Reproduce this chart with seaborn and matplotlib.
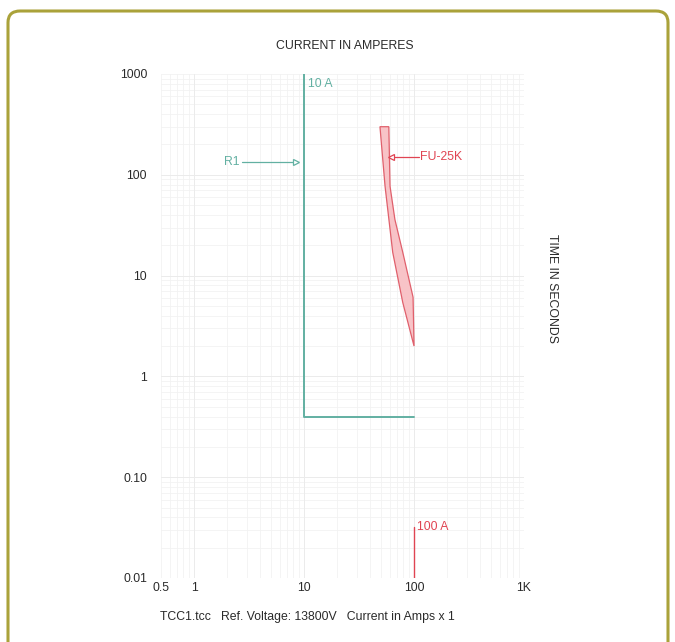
import numpy as np
import pandas as pd
import matplotlib
matplotlib.use("Agg")
import matplotlib.pyplot as plt
from matplotlib.patches import FancyBboxPatch
from matplotlib.ticker import FixedLocator, NullFormatter, FixedFormatter
import seaborn as sns

# Relay R1: definite-time characteristic (pickup 10 A, 0.4 s)
relay_current = [10, 10, 100]
relay_time = [1000, 0.4, 0.4]

# Fuse FU-25K: minimum melt and total clearing curves
melt_current = [49, 54.5, 64, 79, 100]
melt_time = [300, 77, 17, 5.4, 2.0]
clear_current = [59, 60.5, 67, 79, 98, 100]
clear_time = [300, 77, 36, 17, 6.1, 2.0]

# Fault current marker
fault_current = [100, 100]
fault_time = [0.01, 0.032]

x_ticks = [0.5, 1, 10, 100, 1000]
x_labels = ["0.5", "1", "10", "100", "1K"]
y_ticks = [0.01, 0.1, 1, 10, 100, 1000]
y_labels = ["0.01", "0.10", "1", "10", "100", "1000"]

sns.set_style("white")
plt.rcParams["font.family"] = ["Liberation Sans", "DejaVu Sans"]

GREEN = "#62b0a2"
RED = "#e04452"
EDGE = "#e0606c"
FILL = "#f8c3c7"
TEXT = "#2a2a2a"
FS = 8.8

fig = plt.figure(figsize=(6.75, 6.42), dpi=100)
fig.patch.set_facecolor("white")

# rounded olive frame
frame = FancyBboxPatch((8 / 675, -0.05), 660 / 675, 1 - 11 / 642 + 0.05,
                       boxstyle="round,pad=0,rounding_size=0.018",
                       transform=fig.transFigure, fill=False,
                       edgecolor="#aaa23a", linewidth=2.2, zorder=0)
fig.patches.append(frame)

ax = fig.add_axes([161 / 675, 1 - 578 / 642, 363 / 675, 504 / 642])
ax.set_xscale("log")
ax.set_yscale("log")
ax.set_xlim(0.5, 1000)
ax.set_ylim(0.01, 1000)

# faint grid at every decade subdivision
minor_x = [m * 10.0 ** d for d in range(-1, 3) for m in range(1, 10)]
minor_x = [v for v in minor_x if 0.5 <= v <= 1000] + [1000]
minor_y = [m * 10.0 ** d for d in range(-2, 3) for m in range(1, 10)] + [1000]
for v in minor_x:
    ax.axvline(v, color="#f2f2f2", lw=0.6, zorder=0)
for v in minor_y:
    ax.axhline(v, color="#f2f2f2", lw=0.6, zorder=0)
for v in [1, 10, 100]:
    ax.axvline(v, color="#ebebeb", lw=0.7, zorder=0)
for v in [0.1, 1, 10, 100]:
    ax.axhline(v, color="#ebebeb", lw=0.7, zorder=0)

for s in ax.spines.values():
    s.set_visible(False)

ax.xaxis.set_major_locator(FixedLocator(x_ticks))
ax.xaxis.set_major_formatter(FixedFormatter(x_labels))
ax.xaxis.set_minor_formatter(NullFormatter())
ax.yaxis.set_major_locator(FixedLocator(y_ticks))
ax.yaxis.set_major_formatter(FixedFormatter(y_labels))
ax.yaxis.set_minor_formatter(NullFormatter())
ax.tick_params(which="both", length=0, labelsize=FS, labelcolor=TEXT)
ax.tick_params(axis="x", pad=3)
ax.tick_params(axis="y", pad=10)

# relay curve
relay_df = pd.DataFrame({"current": relay_current, "time": relay_time})
sns.lineplot(data=relay_df, x="current", y="time", sort=False, estimator=None,
             color=GREEN, lw=1.4, ax=ax, zorder=3)

# fuse band
band_x = melt_current + clear_current[::-1]
band_y = melt_time + clear_time[::-1]
ax.fill(band_x, band_y, facecolor=FILL, edgecolor=EDGE, lw=0.9, zorder=2)

# fault current marker
fault_df = pd.DataFrame({"current": fault_current, "time": fault_time})
sns.lineplot(data=fault_df, x="current", y="time", sort=False, estimator=None,
             color=RED, lw=1.0, ax=ax, zorder=3)

ax.set_xlabel("")
ax.set_ylabel("")

# labels with leaders
ax.plot([2.75, 8.5], [133, 133], color=GREEN, lw=0.9, zorder=3)
ax.plot([8.5], [133], marker=">", ms=5, mfc="white", mec=GREEN, mew=0.9, zorder=4)
ax.text(2.6, 133, "R1", color=GREEN, fontsize=FS, ha="right", va="center")
ax.text(10.8, 800, "10 A", color=GREEN, fontsize=FS, ha="left", va="center")

ax.plot([62, 112], [150, 150], color=RED, lw=0.9, zorder=3)
ax.plot([62], [150], marker="<", ms=5, mfc="white", mec=RED, mew=0.9, zorder=4)
ax.text(114, 150, "FU-25K", color=RED, fontsize=FS, ha="left", va="center")
ax.text(106, 0.032, "100 A", color=RED, fontsize=FS, ha="left", va="center")

fig.text(345 / 675, 1 - 46 / 642, "CURRENT IN AMPERES", fontsize=FS,
         color=TEXT, ha="center", va="center")
fig.text(552 / 675, 1 - 288 / 642, "TIME IN SECONDS", fontsize=FS,
         color=TEXT, ha="center", va="center", rotation=-90)
fig.text(160 / 675, 1 - 617 / 642,
         "TCC1.tcc   Ref. Voltage: 13800V   Current in Amps x 1",
         fontsize=FS, color=TEXT, ha="left", va="center")

fig.savefig("out.png", dpi=100)
